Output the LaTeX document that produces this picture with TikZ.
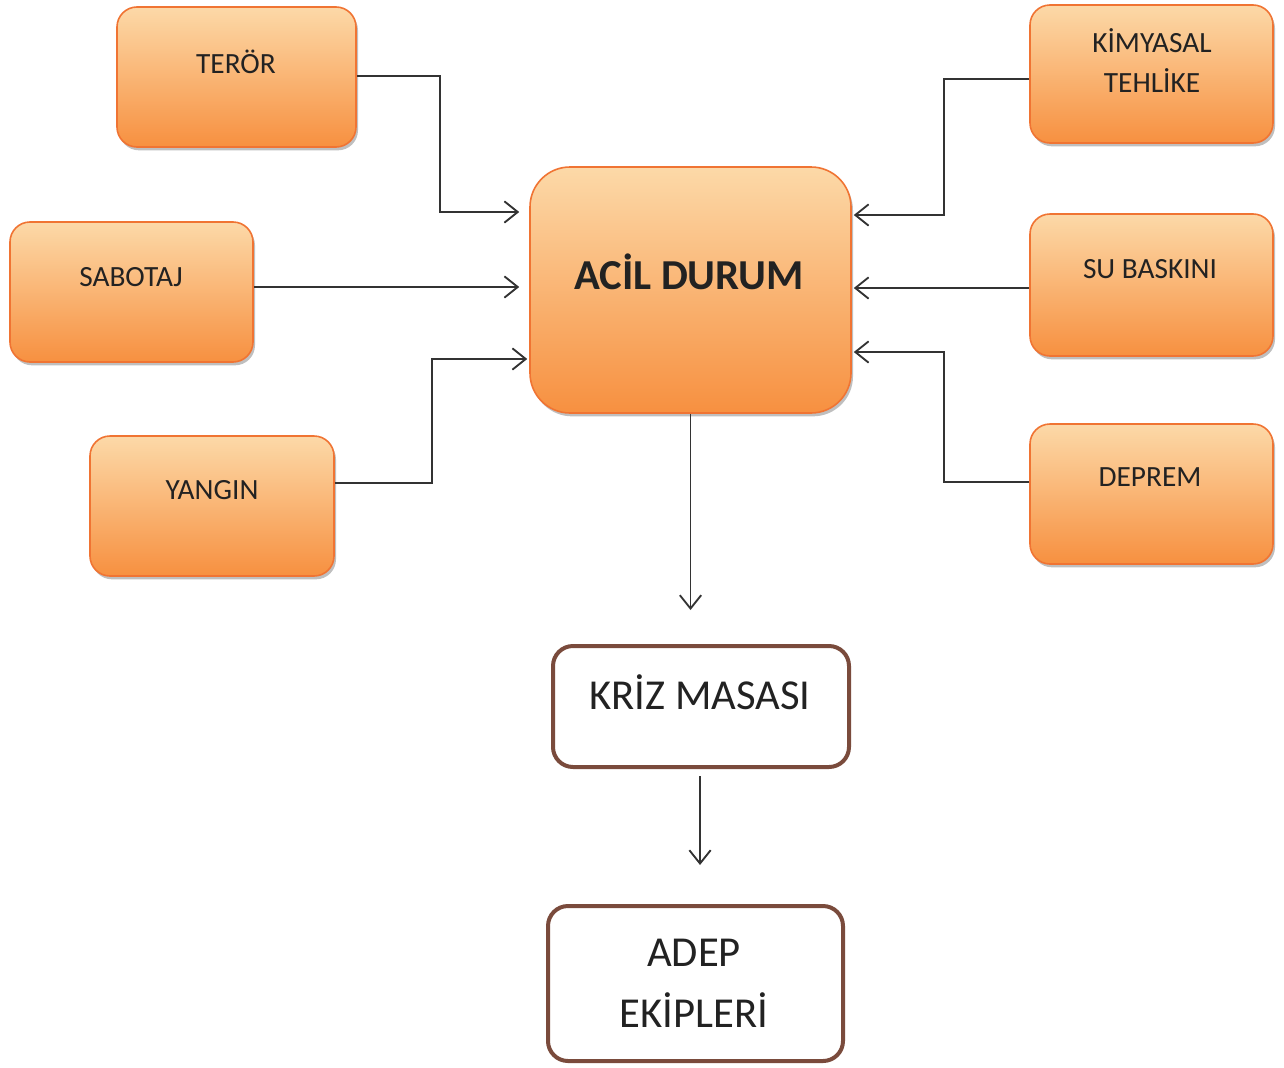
\documentclass[tikz,border=0pt]{standalone}
\usepackage{fontspec}
\setmainfont{Carlito}
\usetikzlibrary{arrows.meta,shadows,calc}
\definecolor{ortop}{HTML}{FCD9A8}
\definecolor{orbot}{HTML}{F79040}
\definecolor{orline}{HTML}{F07433}
\definecolor{brownline}{HTML}{7A4B3C}
\definecolor{txt}{HTML}{222222}
\definecolor{conn}{HTML}{333333}
\begin{document}
\begin{tikzpicture}[x=0.75pt,y=-0.75pt,
  obox/.style={draw=orline,line width=1.2pt,rounded corners=15pt,
    top color=ortop,bottom color=orbot,inner sep=0pt,
    drop shadow={shadow xshift=1.5pt,shadow yshift=-2.5pt,fill=black!50,opacity=0.5}},
  wbox/.style={draw=brownline,line width=3pt,rounded corners=15pt,fill=white,inner sep=0pt},
  lbl/.style={text=txt,font=\fontsize{22}{30}\selectfont,align=center,inner sep=0pt},
  blbl/.style={text=txt,font=\fontsize{32}{44}\selectfont,align=center,inner sep=0pt},
  arr/.style={draw=conn,line width=1.4pt,-{Straight Barb[length=10pt,width=16pt,line width=1.4pt]}}
]
\fill[white] (0,0) rectangle (1284,1067);
\useasboundingbox (0,0) rectangle (1284,1067);

% orange boxes
\node[obox,minimum width={239*0.75pt},minimum height={140*0.75pt}] (teror) at (236.5,77) {};
\node[obox,minimum width={243*0.75pt},minimum height={140*0.75pt}] (sabotaj) at (131.5,292) {};
\node[obox,minimum width={244*0.75pt},minimum height={140*0.75pt}] (yangin) at (212,506) {};
\node[obox,rounded corners=30pt,minimum width={321*0.75pt},minimum height={246*0.75pt}] (acil) at (690.5,290) {};
\node[obox,minimum width={243*0.75pt},minimum height={138*0.75pt}] (kimya) at (1151.5,74) {};
\node[obox,minimum width={243*0.75pt},minimum height={142*0.75pt}] (su) at (1151.5,285) {};
\node[obox,minimum width={243*0.75pt},minimum height={140*0.75pt}] (deprem) at (1151.5,494) {};

% white boxes
\node[wbox,minimum width={296*0.75pt},minimum height={121*0.75pt}] (kriz) at (701,706.5) {};
\node[wbox,minimum width={295*0.75pt},minimum height={155*0.75pt}] (adep) at (695.5,983.5) {};

% labels
\node[lbl] (tTeror) at (236,62) {TERÖR};
\node[lbl] (tSabotaj) at (131,277) {SABOTAJ};
\node[lbl] (tYangin) at (212,490) {YANGIN};
\node[blbl,font=\fontsize{32}{44}\selectfont\bfseries] (tAcil) at (689,272) {ACİL DURUM};
\node[lbl] (tKimya) at (1152,61) {KİMYASAL\\TEHLİKE};
\node[lbl] (tSu) at (1150,269) {SU BASKINI};
\node[lbl] (tDeprem) at (1150,477) {DEPREM};
\node[blbl] (tKriz) at (700,692) {KRİZ MASASI};
\node[blbl,font=\fontsize{32}{46}\selectfont] (tAdep) at (694,983) {ADEP\\EKİPLERİ};

% connectors
\draw[arr] ($(teror.east)+(0,-1)$) -| (440,212) -- ($(acil.west)+(-10,-78)$);
\draw[arr] ($(sabotaj.east)+(0,-5)$) -- ($(acil.west)+(-10,-3)$);
\draw[arr] ($(yangin.east)+(0,-23)$) -| (432,359) -- ($(acil.west)+(-2,69)$);
\draw[arr] ($(kimya.west)+(0,5)$) -| (944,215) -- ($(acil.east)+(2,-75)$);
\draw[arr] ($(su.west)+(0,3)$) -- ($(acil.east)+(2,-2)$);
\draw[arr] ($(deprem.west)+(0,-12)$) -| (944,352) -- ($(acil.east)+(2,62)$);
\draw[arr] (acil.south) -- (acil.south |- 0,610);
\draw[arr] ($(kriz.south)+(-1,7)$) -- ($(kriz.south)+(-1,96)$);
\end{tikzpicture}
\end{document}
